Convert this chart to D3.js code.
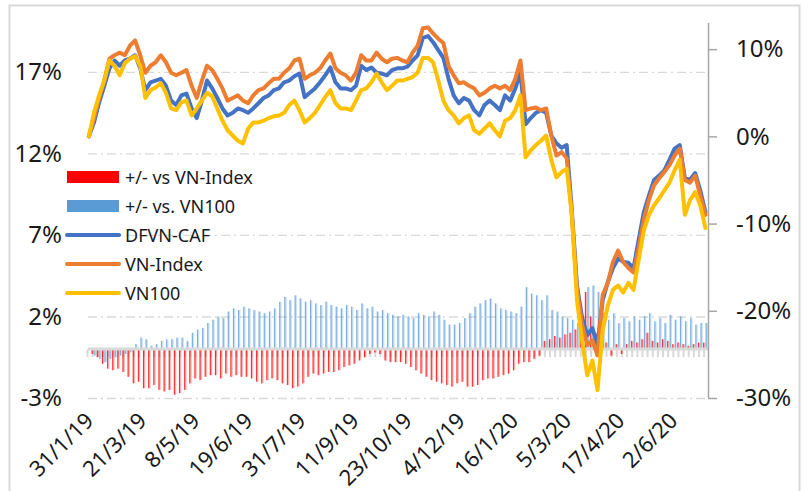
<!DOCTYPE html>
<html>
<head>
<meta charset="utf-8">
<script src="https://cdnjs.cloudflare.com/ajax/libs/d3/7.8.5/d3.min.js"></script>
<style>
  body { margin: 0; background: #fff; }
  text { font-family: "Noto Sans", "Open Sans", sans-serif; fill: #1a1a1a; }
</style>
</head>
<body>
<div id="chart"></div>
<script>
// Trading-day axis: one category per session, a value read every 3rd session
const categoryCount = 362;
const sampleStep = 3;
const labelInterval = 31;

const tickLabels = ["31/1/19", "21/3/19", "8/5/19", "19/6/19", "31/7/19", "11/9/19",
  "23/10/19", "4/12/19", "16/1/20", "5/3/20", "17/4/20", "2/6/20"];

// Cumulative return, % (right axis)
const dfvnCaf = [0.0, 1.6, 3.9, 5.8, 7.8, 8.7, 8.1, 8.7, 8.9, 9.3,
  7.8, 5.3, 6.2, 6.4, 6.6, 5.8, 4.1, 3.6, 4.7, 4.9,
  3.2, 2.1, 4.1, 6.4, 5.5, 4.4, 3.2, 2.4, 2.7, 3.2,
  3.0, 2.7, 3.2, 3.8, 4.4, 4.7, 5.3, 5.5, 6.2, 6.4,
  6.9, 7.2, 4.5, 5.0, 5.5, 6.2, 7.0, 7.9, 6.2, 5.5,
  5.5, 5.3, 5.8, 8.1, 7.6, 7.9, 7.3, 7.2, 7.0, 7.6,
  7.8, 7.8, 8.0, 8.7, 9.3, 11.3, 11.5, 10.8, 9.9, 9.0,
  6.6, 4.7, 3.8, 4.4, 4.1, 3.0, 2.4, 3.6, 4.1, 3.6,
  3.0, 4.7, 4.1, 5.5, 7.3, 1.4, 2.1, 2.7, 3.0, 2.7,
  0.1, -0.8, -1.3, -1.0, -8.5, -17.1, -20.8, -22.8, -22.0, -23.9,
  -18.8, -16.7, -15.1, -14.0, -14.4, -14.5, -15.1, -11.9, -8.7, -6.8,
  -5.0, -4.5, -3.9, -2.7, -1.4, -1.0, -4.8, -5.0, -4.2, -6.2,
  -8.7];

const vnIndex = [0.0, 2.1, 4.4, 6.4, 8.9, 9.3, 9.6, 9.3, 10.4, 11.0,
  9.3, 7.3, 8.1, 8.5, 9.3, 8.5, 7.3, 7.0, 7.3, 7.6,
  5.8, 4.4, 6.4, 8.1, 7.6, 6.6, 5.5, 4.1, 4.4, 4.7,
  4.1, 3.8, 4.7, 5.3, 5.5, 6.1, 6.6, 6.6, 7.3, 7.8,
  8.7, 8.9, 6.6, 7.0, 7.3, 7.8, 8.7, 9.5, 7.8, 7.3,
  7.0, 6.4, 7.3, 9.3, 8.7, 8.7, 9.6, 8.9, 8.5, 8.9,
  9.0, 8.7, 8.5, 9.6, 10.4, 12.4, 12.5, 11.8, 11.2, 10.7,
  8.1, 7.0, 6.1, 6.2, 5.8, 5.5, 4.7, 5.0, 5.5, 5.8,
  5.5, 5.8, 5.3, 6.6, 8.7, 3.0, 3.2, 3.3, 3.0, 3.2,
  0.1, -2.2, -1.8, -2.5, -9.0, -17.6, -21.6, -23.9, -23.4, -25.1,
  -18.2, -16.8, -14.4, -13.1, -14.4, -15.1, -15.6, -12.8, -9.6, -7.3,
  -5.6, -4.8, -4.1, -3.3, -2.2, -1.4, -5.0, -5.3, -4.5, -6.8,
  -9.0];

const vn100 = [0.0, 2.7, 4.7, 6.4, 8.7, 8.1, 7.0, 8.4, 8.9, 9.2,
  8.1, 4.4, 5.3, 5.6, 6.1, 5.0, 3.2, 3.0, 3.9, 4.1,
  2.4, 3.2, 4.1, 5.0, 4.6, 3.2, 1.8, 0.7, 0.1, -0.5,
  -0.8, 0.9, 1.6, 1.6, 1.8, 2.1, 2.3, 2.4, 2.7, 3.6,
  4.1, 3.0, 1.6, 2.1, 2.7, 3.6, 4.5, 5.3, 3.8, 3.2,
  3.2, 3.0, 4.1, 5.3, 5.5, 6.2, 7.2, 6.2, 5.3, 5.8,
  6.4, 6.4, 6.6, 6.8, 7.3, 9.0, 9.0, 8.5, 6.4, 4.1,
  3.0, 2.4, 1.5, 2.1, 2.4, 0.7, 0.3, 0.9, 1.5, 0.7,
  0.0, 1.8, 2.1, 3.0, 4.7, -2.4, -1.6, -1.0, -0.5, 0.1,
  -2.7, -4.7, -4.1, -3.7, -9.0, -18.8, -23.4, -27.4, -25.7, -29.1,
  -22.2, -19.4, -17.6, -17.1, -17.9, -16.8, -17.6, -14.2, -10.8, -9.0,
  -7.9, -7.1, -6.2, -5.3, -3.9, -2.7, -9.0, -7.3, -6.4, -7.9,
  -10.5];

// Out/under-performance, percentage points (left axis)
const vsVnIndex = [0.0, -0.3, -0.5, -0.9, -1.2, -1.3, -1.2, -1.4, -1.7, -2.1,
  -2.0, -2.4, -2.4, -2.2, -2.5, -2.6, -2.5, -2.8, -2.7, -2.5,
  -2.1, -1.8, -1.9, -1.7, -1.6, -1.6, -1.8, -1.5, -1.7, -1.6,
  -1.7, -1.7, -1.8, -2.0, -2.1, -1.9, -1.8, -1.9, -2.1, -2.2,
  -2.4, -2.3, -2.1, -1.7, -1.5, -1.6, -1.5, -1.4, -1.4, -1.3,
  -1.1, -1.0, -0.9, -0.7, -0.5, -0.3, -0.2, -0.3, -0.7, -0.8,
  -0.8, -0.8, -0.9, -1.1, -1.3, -1.5, -1.7, -1.9, -2.0, -2.1,
  -2.2, -2.3, -2.1, -2.0, -2.3, -2.3, -2.2, -1.9, -1.8, -1.8,
  -1.7, -1.6, -1.5, -1.3, -0.9, -0.8, -0.8, -0.6, -0.4, 0.5,
  0.6, 0.8, 0.7, 0.9, 1.0, 1.2, 1.1, 3.5, 2.0, 1.0,
  0.3, 0.4, -0.4, 0.3, -0.3, 0.3, 0.5, 0.4, 0.6, 1.0,
  0.5, 0.4, 0.6, 0.5, 0.3, 0.4, 0.3, 0.2, 0.3, 0.4,
  0.4];

const vsVn100 = [0.0, -0.4, -0.6, -0.8, -0.6, -0.5, -0.4, -0.3, -0.2, 0.3,
  0.7, 0.6, 0.2, 0.3, 0.5, 0.6, 0.6, 0.7, 0.7, 0.5,
  1.0, 1.2, 1.3, 1.6, 1.8, 2.0, 1.9, 2.3, 2.5, 2.4,
  2.6, 2.5, 2.4, 2.3, 2.2, 2.3, 2.5, 2.9, 3.2, 3.0,
  3.3, 3.1, 2.9, 3.0, 2.8, 2.7, 2.9, 2.7, 2.6, 2.5,
  2.7, 2.6, 2.4, 2.8, 2.5, 2.6, 2.3, 2.4, 2.2, 2.1,
  2.0, 2.1, 2.0, 1.9, 2.2, 2.1, 2.0, 2.3, 2.1, 1.8,
  1.5, 1.5, 1.6, 1.9, 2.2, 2.6, 2.8, 3.0, 3.1, 2.8,
  2.5, 2.4, 2.3, 2.2, 2.6, 3.8, 3.4, 3.3, 3.0, 3.3,
  2.4, 2.3, 2.0, 1.9, 1.8, 1.6, 2.0, 3.8, 3.9, 3.5,
  2.2, 1.8, 2.2, 1.6, 1.9, 1.7, 2.0, 1.8, 2.0, 2.2,
  1.7, 1.9, 1.6, 2.1, 1.8, 2.0, 1.7, 1.9, 1.5, 1.6,
  1.6];

const leftTicks = [-3, 2, 7, 12, 17];
const rightTicks = [-30, -20, -10, 0, 10];
const legendNames = ["+/- vs VN-Index", "+/- vs. VN100", "DFVN-CAF", "VN-Index", "VN100"];

drawChart();

function drawChart() {
  const w = 808;
  const h = 491;
  const plot = { left: 88, right: 708, top: 23, bottom: 398 };

  const svg = d3.select("#chart")
    .append("svg")
    .attr("width", w)
    .attr("height", h);

  // chart border
  svg.append("rect")
    .attr("x", 9.5).attr("y", 5.5)
    .attr("width", 790).attr("height", 510)
    .attr("fill", "none")
    .attr("stroke", "#d9d9d9")
    .attr("stroke-width", 2);

  // Scales
  const x = d3.scaleLinear().domain([0, categoryCount]).range([plot.left, plot.right]);
  const yLeft = d3.scaleLinear().domain([-3, 20]).range([plot.bottom, plot.top]);
  const yRight = d3.scaleLinear().domain([-30, 13]).range([plot.bottom, plot.top]);
  const cx = (k) => x(k * sampleStep + 0.5);

  // Gridlines + left labels
  const leftAxis = svg.append("g")
    .attr("transform", `translate(${plot.left},0)`)
    .call(d3.axisLeft(yLeft).tickValues(leftTicks)
      .tickSize(-(plot.right - plot.left))
      .tickPadding(26)
      .tickFormat((d) => d + "%"));
  leftAxis.select(".domain").remove();
  leftAxis.selectAll(".tick line")
    .attr("stroke", "#d9d9d9")
    .attr("stroke-width", 1.3)
    .attr("stroke-dasharray", "9,4,2,4");
  leftAxis.selectAll(".tick text")
    .style("font-size", "24px")
    .attr("fill", "#1a1a1a");

  const y0 = yLeft(0);
  const barW = x(sampleStep) - x(0);

  // tick marks under the category axis
  svg.append("g")
    .selectAll("line")
    .data(vsVnIndex)
    .enter()
    .append("line")
    .attr("x1", (d, k) => cx(k) - 1.3)
    .attr("x2", (d, k) => cx(k) - 1.3)
    .attr("y1", y0)
    .attr("y2", y0 + 8)
    .attr("stroke", "#d9d9d9")
    .attr("stroke-width", 2);

  // Bars: pale body plus a thin stronger streak, like the dense originals
  function drawBars(values, color, offset) {
    const g = svg.append("g");
    g.selectAll("rect")
      .data(values)
      .enter()
      .append("rect")
      .attr("x", (d, k) => cx(k) + offset * barW)
      .attr("width", barW * 0.5)
      .attr("y", (d) => Math.min(yLeft(d), y0))
      .attr("height", (d) => Math.abs(yLeft(d) - y0))
      .attr("fill", color)
      .attr("fill-opacity", 0.3);
    g.selectAll("line")
      .data(values)
      .enter()
      .append("line")
      .attr("x1", (d, k) => cx(k) + offset * barW + barW * 0.15)
      .attr("x2", (d, k) => cx(k) + offset * barW + barW * 0.15)
      .attr("y1", y0)
      .attr("y2", (d) => yLeft(d))
      .attr("stroke", color)
      .attr("stroke-opacity", 0.75)
      .attr("stroke-width", 1);
  }
  drawBars(vsVnIndex, "#ff0000", -0.5);
  drawBars(vsVn100, "#5b9bd5", 0);

  // category axis line at zero
  svg.append("line")
    .attr("x1", plot.left).attr("x2", plot.right)
    .attr("y1", y0).attr("y2", y0)
    .attr("stroke", "#d9d9d9")
    .attr("stroke-width", 3);

  // Right axis
  const rightAxis = svg.append("g")
    .attr("transform", `translate(${plot.right},0)`)
    .call(d3.axisRight(yRight).tickValues(rightTicks)
      .tickSize(9)
      .tickPadding(19)
      .tickFormat((d) => d + "%"));
  rightAxis.select(".domain")
    .attr("d", `M0.5,${plot.top}V${plot.bottom}`)
    .attr("stroke", "#a6a6a6")
    .attr("stroke-width", 1.5);
  rightAxis.selectAll(".tick line").attr("stroke", "#a6a6a6").attr("stroke-width", 1.5);
  rightAxis.selectAll(".tick text").style("font-size", "24px").attr("fill", "#1a1a1a");

  // Lines
  const line = d3.line()
    .x((d, k) => cx(k))
    .y((d) => yRight(d));

  const series = [
    { values: dfvnCaf, color: "#4472c4" },
    { values: vnIndex, color: "#ed7d31" },
    { values: vn100, color: "#ffc000" }
  ];
  series.forEach((s) => {
    svg.append("path")
      .datum(s.values)
      .attr("d", line)
      .attr("fill", "none")
      .attr("stroke", s.color)
      .attr("stroke-width", 4)
      .attr("stroke-linejoin", "round")
      .attr("stroke-linecap", "round");
  });

  // X labels, rotated
  svg.append("g")
    .selectAll("text")
    .data(tickLabels)
    .enter()
    .append("text")
    .attr("transform", (d, j) => `translate(${x(j * labelInterval + 0.5) + 6},${plot.bottom + 24}) rotate(-45)`)
    .attr("text-anchor", "end")
    .style("font-size", "22px")
    .text((d) => d);

  // Legend
  const legendColors = ["#ff0000", "#5b9bd5", "#4472c4", "#ed7d31", "#ffc000"];
  const legend = svg.append("g").attr("transform", "translate(67,177)");
  legendNames.forEach((name, i) => {
    const g = legend.append("g").attr("transform", `translate(0,${i * 29})`);
    if (i < 2) {
      g.append("rect").attr("x", 0).attr("y", -6).attr("width", 52).attr("height", 12)
        .attr("fill", legendColors[i]);
    } else {
      g.append("line").attr("x1", 0).attr("x2", 52).attr("y1", 0).attr("y2", 0)
        .attr("stroke", legendColors[i]).attr("stroke-width", 4)
        .attr("stroke-linecap", "round");
    }
    g.append("text")
      .attr("x", 58)
      .attr("y", 6.5)
      .style("font-size", "18px")
      .text(name);
  });
}
</script>
</body>
</html>
